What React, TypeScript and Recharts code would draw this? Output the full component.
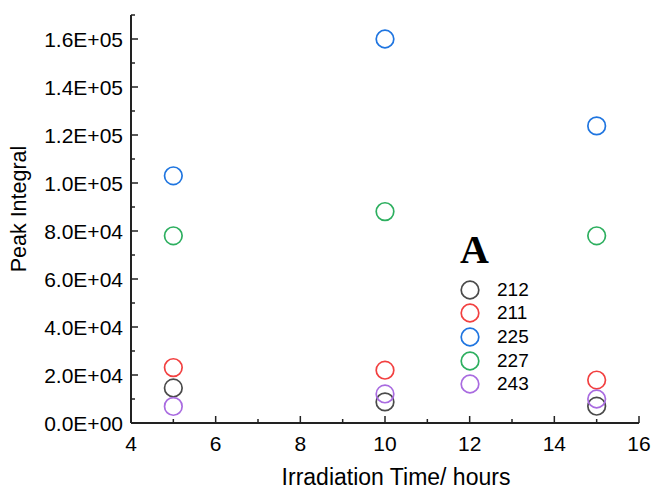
import { ScatterChart, Scatter, XAxis, YAxis, Legend } from 'recharts';

const times = [5, 10, 15];
const peak212 = [14600, 8800, 7000];
const peak211 = [23100, 22000, 17900];
const peak225 = [103000, 160000, 123800];
const peak227 = [78000, 88100, 78000];
const peak243 = [6900, 12100, 10000];

const xTicks = [4, 5, 6, 7, 8, 9, 10, 11, 12, 13, 14, 15, 16];
const yTicks = [0, 10000, 20000, 30000, 40000, 50000, 60000, 70000, 80000, 90000, 100000, 110000, 120000, 130000, 140000, 150000, 160000, 170000];

const series = [
  { name: '212', values: peak212, color: '#4a4a4a' },
  { name: '211', values: peak211, color: '#f24040' },
  { name: '225', values: peak225, color: '#1f75e0' },
  { name: '227', values: peak227, color: '#2daf5f' },
  { name: '243', values: peak243, color: '#a96be0' },
];

const FONT = '"Liberation Sans", Arial, sans-serif';
const AXIS = '#222';

function sci(v: number) {
  if (v === 0) return '0.0E+00';
  const exp = Math.floor(Math.log10(v));
  const mant = v / Math.pow(10, exp);
  return `${mant.toFixed(1)}E+${String(exp).padStart(2, '0')}`;
}

function XTick(props: any) {
  const { x, y, payload } = props;
  const major = payload.value % 2 === 0;
  return (
    <g>
      <line x1={x} y1={y} x2={x} y2={y - (major ? 7 : 4)} stroke={AXIS} strokeWidth={1.5} />
      {major && (
        <text x={x} y={y + 20} textAnchor="middle" dominantBaseline="central" fontSize={21} fontFamily={FONT} fill="#000">
          {payload.value}
        </text>
      )}
    </g>
  );
}

function YTick(props: any) {
  const { x, y, payload } = props;
  const major = payload.value % 20000 === 0;
  return (
    <g>
      <line x1={x} y1={y} x2={x + (major ? 7 : 4)} y2={y} stroke={AXIS} strokeWidth={1.5} />
      {major && (
        <text x={x - 8} y={y} textAnchor="end" dominantBaseline="central" fontSize={21} fontFamily={FONT} fill="#000">
          {sci(payload.value)}
        </text>
      )}
    </g>
  );
}

// legend keeps the original series order (Recharts would sort by name)
function LegendBox() {
  return (
    <div style={{ fontFamily: FONT }}>
      {series.map((s) => (
        <div key={s.name} style={{ display: 'flex', alignItems: 'center', height: 23.6 }}>
          <svg width={20} height={20}>
            <circle cx={10} cy={10} r={8.8} fill="none" stroke={s.color} strokeWidth={1.7} />
          </svg>
          <span style={{ marginLeft: 17, fontSize: 19, color: '#000' }}>{s.name}</span>
        </div>
      ))}
    </div>
  );
}

export default function App() {
  return (
    <div style={{ position: 'absolute', left: 0, top: 0, width: 654, height: 488, background: '#fff', fontFamily: FONT }}>
      <ScatterChart width={654} height={488} margin={{ top: 15, right: 15, bottom: 35, left: 0 }}>
        <XAxis
          type="number"
          dataKey="x"
          domain={[4, 16]}
          ticks={xTicks}
          interval={0}
          height={30}
          tickSize={0}
          tickMargin={0}
          tickLine={false}
          tick={<XTick />}
          axisLine={{ stroke: AXIS, strokeWidth: 2 }}
        />
        <YAxis
          type="number"
          dataKey="y"
          domain={[0, 170000]}
          ticks={yTicks}
          interval={0}
          width={131}
          tickSize={0}
          tickMargin={0}
          tickLine={false}
          tick={<YTick />}
          axisLine={{ stroke: AXIS, strokeWidth: 2 }}
        />
        <Legend
          layout="vertical"
          align="center"
          verticalAlign="middle"
          content={<LegendBox />}
          wrapperStyle={{ left: 460, top: 278, width: 90, height: 120 }}
        />
        {series.map((s) => (
          <Scatter
            key={s.name}
            name={s.name}
            data={times.map((t, i) => ({ x: t, y: s.values[i] }))}
            fill={s.color}
            isAnimationActive={false}
            shape={(p: any) => (
              <circle cx={p.cx} cy={p.cy} r={8.8} fill="none" stroke={s.color} strokeWidth={1.7} />
            )}
          />
        ))}
      </ScatterChart>
      <div style={{ position: 'absolute', left: 460, top: 230, fontFamily: '"Liberation Serif", "Times New Roman", serif', fontWeight: 'bold', fontSize: 40, lineHeight: '40px' }}>
        A
      </div>
      <div style={{ position: 'absolute', left: 18.7, top: 209, transform: 'translate(-50%, -50%) rotate(-90deg)', whiteSpace: 'nowrap', fontSize: 21.5 }}>
        Peak Integral
      </div>
      <div style={{ position: 'absolute', left: 396, top: 477, transform: 'translate(-50%, -50%)', whiteSpace: 'nowrap', fontSize: 23 }}>
        Irradiation Time/ hours
      </div>
    </div>
  );
}
